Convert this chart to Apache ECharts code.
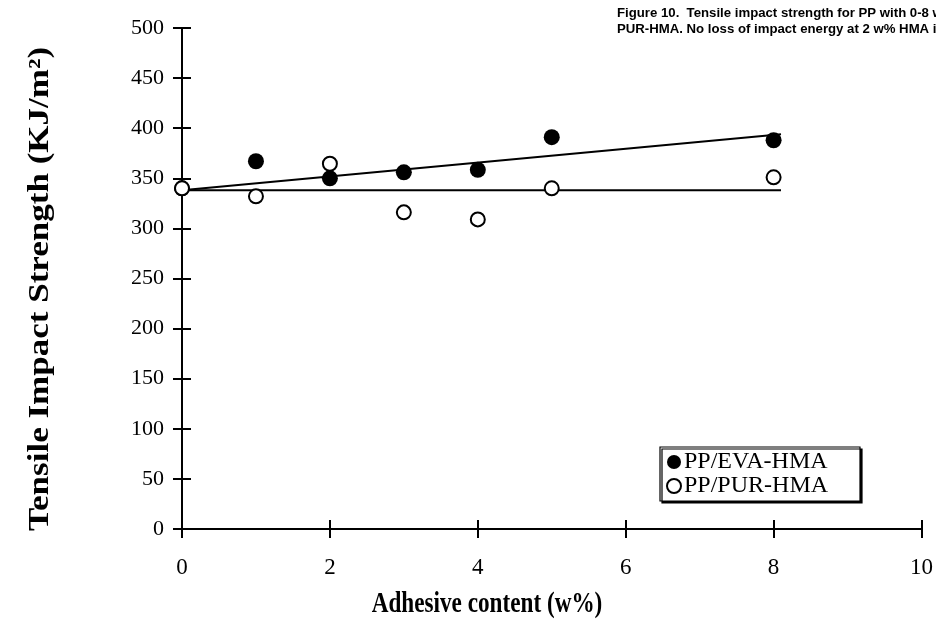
<!DOCTYPE html>
<html><head><meta charset="utf-8">
<script src="https://cdn.jsdelivr.net/npm/echarts@6/dist/echarts.min.js"></script>
<style>html,body{margin:0;padding:0;background:#fff}#c{width:936px;height:636px}</style>
</head><body><div id="c"></div>
<script>
// ---- data ----
const xTickLabels = ['0','2','4','6','8','10'];
const yTickLabels = ['0','50','100','150','200','250','300','350','400','450','500'];
const evaX = [0, 1, 2, 3, 4, 5, 8];
const evaY = [340, 367, 350, 356, 358.5, 391, 388];
const purX = [0, 1, 2, 3, 4, 5, 8];
const purY = [340, 332, 364.5, 316, 309, 340, 351];
const evaTrendX = [0, 8.1];
const evaTrendY = [338, 394];
const purTrendX = [0, 8.1];
const purTrendY = [338, 338];
const seriesNames = ['PP/EVA-HMA', 'PP/PUR-HMA'];
const xTitle = 'Adhesive content (w%)';
const yTitle = 'Tensile Impact Strength (KJ/m²)';
const captionLines = [
  'Figure 10.  Tensile impact strength for PP with 0-8 w% EVA- and',
  'PUR-HMA. No loss of impact energy at 2 w% HMA is observed.'
];

const zip = (xs, ys) => xs.map((x, i) => [x, ys[i]]);
const serif = '"Liberation Serif", "Times New Roman", serif';
const sans = '"Liberation Sans", Arial, sans-serif';
const black = '#000';

const baseX = {
  type: 'value', min: 0, max: 10, interval: 2, position: 'bottom',
  splitLine: { show: false },
  axisLine: { show: true, onZero: false, lineStyle: { color: black, width: 2 } }
};
const baseY = {
  type: 'value', min: 0, max: 500, interval: 50, position: 'left',
  splitLine: { show: false },
  axisLine: { show: true, onZero: false, lineStyle: { color: black, width: 2 } }
};

const chart = echarts.init(document.getElementById('c'), null, { renderer: 'canvas' });
chart.setOption({
  animation: false,
  backgroundColor: '#fff',
  title: [{
    text: captionLines.join('\n'),
    left: 612, top: 0,
    textStyle: { fontFamily: sans, fontWeight: 'bold', fontSize: 13.2, lineHeight: 16, color: black }
  }],
  graphic: [{
    type: 'text', x: 487, y: 605, scaleX: 0.8, scaleY: 1,
    style: { text: xTitle, fontFamily: serif, fontWeight: 'bold', fontSize: 29, fill: black,
      textAlign: 'center', textVerticalAlign: 'middle' }
  }, {
    type: 'text', x: 41, y: 289, rotation: Math.PI / 2, scaleX: 1.03, scaleY: 0.85,
    style: { text: yTitle, fontFamily: serif, fontWeight: 'bold', fontSize: 34, fill: black,
      textAlign: 'center', textVerticalAlign: 'middle' }
  }],
  grid: { left: 182, right: 14, top: 28, bottom: 107, containLabel: false },
  xAxis: [
    Object.assign({}, baseX, {
      axisTick: { show: true, inside: false, length: 9, lineStyle: { color: black, width: 2 } },
      axisLabel: { show: true, margin: 27, fontFamily: serif, fontSize: 23, color: black,
        formatter: (v) => xTickLabels[Math.round(v / 2)] }
    }),
    Object.assign({}, baseX, {
      axisTick: { show: true, inside: true, length: 9, lineStyle: { color: black, width: 2 } },
      axisLabel: { show: false }
    })
  ],
  yAxis: [
    Object.assign({}, baseY, {
      axisTick: { show: true, inside: false, length: 9, lineStyle: { color: black, width: 2 } },
      axisLabel: { show: true, margin: 18, fontFamily: serif, fontSize: 22, color: black,
        formatter: (v) => yTickLabels[Math.round(v / 50)] }
    }),
    Object.assign({}, baseY, {
      axisTick: { show: true, inside: true, length: 9, lineStyle: { color: black, width: 2 } },
      axisLabel: { show: false }
    })
  ],
  legend: {
    orient: 'vertical', left: 660, top: 447,
    data: seriesNames,
    itemWidth: 14, itemHeight: 14, itemGap: 0,
    padding: [3, 0, 3, 6],
    backgroundColor: '#fff', borderColor: black, borderWidth: 1.2,
    shadowColor: black, shadowBlur: 0, shadowOffsetX: 2, shadowOffsetY: 2,
    textStyle: { fontFamily: serif, fontSize: 24, lineHeight: 23, color: black,
      width: 176, padding: [0, 0, 0, -2] }
  },
  series: [
    { type: 'line', name: 'evaTrend', data: zip(evaTrendX, evaTrendY), showSymbol: false, symbol: 'none',
      lineStyle: { color: black, width: 2 }, z: 2, silent: true },
    { type: 'line', name: 'purTrend', data: zip(purTrendX, purTrendY), showSymbol: false, symbol: 'none',
      lineStyle: { color: black, width: 2 }, z: 2, silent: true },
    { type: 'scatter', name: seriesNames[0], data: zip(evaX, evaY), symbol: 'circle', symbolSize: 16,
      itemStyle: { color: black, borderColor: black, borderWidth: 0, opacity: 1 }, z: 3 },
    { type: 'scatter', name: seriesNames[1], data: zip(purX, purY), symbol: 'circle', symbolSize: 14,
      itemStyle: { color: '#fff', borderColor: black, borderWidth: 2, opacity: 1 }, z: 4 }
  ]
});
</script></body></html>
